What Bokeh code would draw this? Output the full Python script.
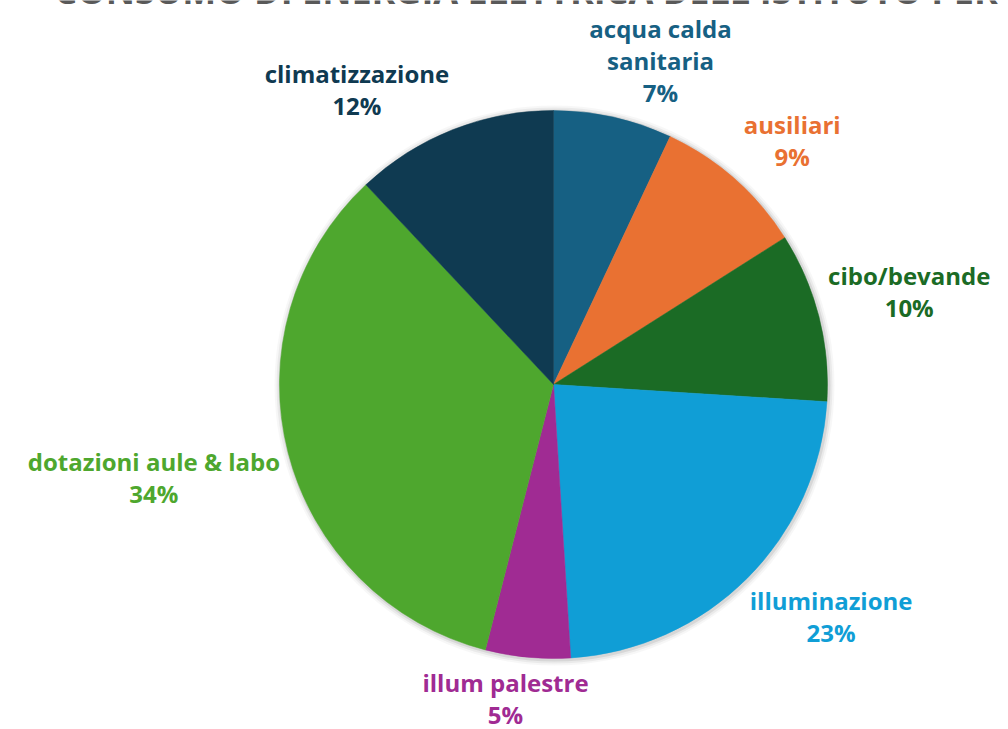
import math
from bokeh.plotting import figure
from bokeh.models import Range1d, ColumnDataSource
from bokeh.core.properties import value
from bokeh.embed import file_html
from bokeh.resources import INLINE

# ---- data ----
categories = ["acqua calda\nsanitaria", "ausiliari", "cibo/bevande", "illuminazione",
              "illum palestre", "dotazioni aule & labo", "climatizzazione"]
shares = [7, 9, 10, 23, 5, 34, 12]
colors = ["#166083", "#E97132", "#1B6B25", "#109ED6", "#A02B93", "#4EA72E", "#0F3A51"]
title_text = "CONSUMO DI ENERGIA ELETTRICA DELL'ISTITUTO PER USO"

W, H = 1008, 729
CX, CY = 553, H - 384
R = 274

p = figure(width=W, height=H, output_backend="svg", toolbar_location=None,
           x_range=Range1d(0, W), y_range=Range1d(0, H), min_border=0,
           outline_line_color=None, background_fill_color="white")
p.axis.visible = False
p.grid.visible = False

# soft shadow
for k, a in [(6, 0.03), (4, 0.05), (2, 0.08)]:
    p.circle(x=[CX + 1], y=[CY - 1], radius=R + k, fill_color="#000000",
             fill_alpha=a, line_color=None)

total = float(sum(shares))
starts, ends, mids = [], [], []
c = 0.0
for s in shares:
    a0 = 90 - 360 * c / total
    c += s
    a1 = 90 - 360 * c / total
    starts.append(a1)
    ends.append(a0)
    mids.append(360 * (c - s / 2) / total)  # clockwise from top

src = ColumnDataSource(dict(start=starts, end=ends, color=colors))
p.wedge(x=CX, y=CY, radius=R, start_angle="start", end_angle="end",
        start_angle_units="deg", end_angle_units="deg",
        fill_color="color", line_color="color", line_width=0.5, source=src)

# labels (outside end)
FS = 24
LINE_H = 32
RL = R + 9
K = 2.8
def clip(v):
    return max(-1.0, min(1.0, v))

def text_w(s):
    return sum((0.3 if ch in "il /'.t" else 0.62) for ch in s) * FS

xs, ys, txts, cols = [], [], [], []
for name, s, col, m in zip(categories, shares, colors, mids):
    lines = name.split("\n") + [f"{s}%"]
    w = max(text_w(l) for l in lines)
    h = len(lines) * LINE_H
    th = math.radians(m)
    ax = CX + RL * math.sin(th)
    ay = CY + RL * math.cos(th)
    cx = ax + w / 2 * clip(K * math.sin(th))
    cy = ay + h / 2 * clip(K * math.cos(th))
    top = cy + h / 2
    for i, l in enumerate(lines):
        xs.append(cx)
        ys.append(top - LINE_H * (i + 0.5))
        txts.append(l)
        cols.append(col)

lsrc = ColumnDataSource(dict(x=xs, y=ys, t=txts, c=cols))
p.text(x="x", y="y", text="t", text_color="c", source=lsrc,
       text_font=value("Open Sans"), text_font_style="bold",
       text_font_size=f"{FS}px", text_align="center", text_baseline="middle")

# title (cut off at top of the image, as in the reference)
p.text(x=[568], y=[H + 10], text=[title_text], text_color="#595959",
       text_font=value("Open Sans"), text_font_style="bold",
       text_font_size="36px", text_align="center", text_baseline="alphabetic")

open("out.html", "w").write(file_html(p, INLINE))
